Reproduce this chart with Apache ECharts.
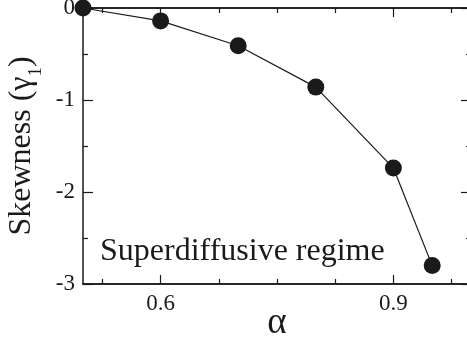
<!DOCTYPE html>
<html>
<head>
<meta charset="utf-8">
<script src="https://cdn.jsdelivr.net/npm/echarts@6/dist/echarts.min.js"></script>
<style>
  html, body { margin: 0; padding: 0; background: #fff; }
  #chart { width: 467px; height: 342px; }
</style>
</head>
<body>
<div id="chart"></div>
<script>
// data
const alphaValues = [0.5, 0.6, 0.7, 0.8, 0.9, 0.95];
const skewValues = [0, -0.14, -0.41, -0.86, -1.74, -2.80];
const xMajorTicks = [0.6, 0.9];
const xMinorTicks = [0.525, 0.675, 0.75, 0.825, 0.975];

const serif = "'Liberation Serif', 'Times New Roman', serif";
const ink = '#1a1a1a';

const chart = echarts.init(document.getElementById('chart'));

// same box twice: grid 0 carries the major ticks, grid 1 the minor x ticks
const box = { left: 83, top: 8, width: 388, height: 276, outerBoundsMode: 'none' };

function xAxisDef(grid, pos, values, len, labels, extra) {
  return Object.assign({
    type: 'value',
    gridIndex: grid,
    position: pos,
    min: 0.5,
    max: 1.0,
    axisLine: { show: true, onZero: false, lineStyle: { color: ink, width: 1.5 } },
    axisTick: { show: true, inside: true, length: len, customValues: values, lineStyle: { color: ink, width: 1.2 } },
    axisLabel: {
      show: labels,
      customValues: values,
      color: ink,
      fontFamily: serif,
      fontSize: 23,
      margin: 8,
      formatter: v => v.toFixed(1)
    },
    splitLine: { show: false }
  }, extra || {});
}

function yAxisDef(grid, pos, labels, extra) {
  return Object.assign({
    type: 'value',
    gridIndex: grid,
    position: pos,
    min: -3,
    max: 0,
    interval: 1,
    axisLine: { show: true, onZero: false, lineStyle: { color: ink, width: 1.5 } },
    axisTick: { show: true, inside: true, length: 10, lineStyle: { color: ink, width: 1.2 } },
    minorTick: { show: true, splitNumber: 2, length: 5, lineStyle: { color: ink, width: 1.2 } },
    axisLabel: { show: labels, color: ink, fontFamily: serif, fontSize: 23, margin: 8 },
    splitLine: { show: false }
  }, extra || {});
}

const option = {
  animation: false,
  backgroundColor: '#fff',
  grid: [box, Object.assign({}, box)],
  xAxis: [
    xAxisDef(0, 'bottom', xMajorTicks, 9, true, {
      name: 'α',
      nameLocation: 'middle',
      nameGap: 21,
      nameMoveOverlap: false,
      nameTextStyle: { fontFamily: serif, fontSize: 37, color: ink }
    }),
    xAxisDef(0, 'top', xMajorTicks, 9, false),
    xAxisDef(1, 'bottom', xMinorTicks, 5, false),
    xAxisDef(1, 'top', xMinorTicks, 5, false)
  ],
  yAxis: [
    yAxisDef(0, 'left', true, {
      name: '{n|Skewness (γ}{s|1}{n|)}',
      nameLocation: 'middle',
      nameGap: 45,
      nameRotate: 90,
      nameMoveOverlap: false,
      nameTextStyle: {
        rich: {
          n: { fontFamily: serif, fontSize: 32, color: ink },
          s: { fontFamily: serif, fontSize: 19, color: ink, verticalAlign: 'bottom', padding: [0, 0, -8, 0] }
        }
      }
    }),
    yAxisDef(0, 'right', false),
    yAxisDef(1, 'left', false, { show: false })
  ],
  graphic: [
    {
      type: 'text',
      left: 100,
      top: 236,
      style: { text: 'Superdiffusive regime', fontFamily: serif, fontSize: 32, fill: ink }
    }
  ],
  series: [
    {
      type: 'line',
      xAxisIndex: 0,
      yAxisIndex: 0,
      data: alphaValues.map((a, i) => [a, skewValues[i]]),
      symbol: 'circle',
      symbolSize: 17,
      clip: false,
      lineStyle: { color: ink, width: 1.2 },
      itemStyle: { color: ink }
    }
  ]
};

chart.setOption(option);
</script>
</body>
</html>
